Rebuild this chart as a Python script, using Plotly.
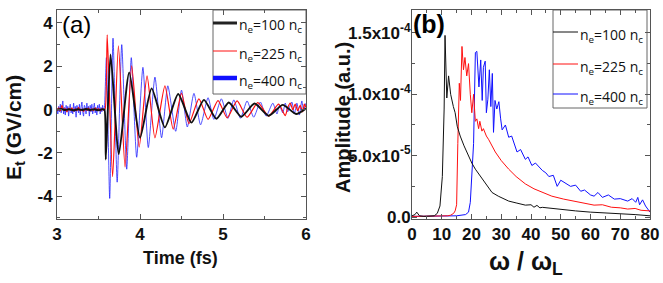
import numpy as np
import plotly.graph_objects as go

# ---------------- panel (a): time-domain field ----------------
t_black = [3.00,3.05,3.10,3.15,3.20,3.25,3.30,3.35,3.40,3.45,3.50,3.55,3.572,3.588,3.645,3.745,3.87,4.00,4.14,4.30,4.46,4.62,4.77,4.92,5.07,5.22,5.38,5.55,5.72,5.88,6.00]
E_black = [0.0,0.03,-0.02,0.02,-0.03,0.02,-0.02,0.03,-0.02,0.02,-0.03,0.02,0.0,-2.3,2.55,-2.05,1.72,-1.3,0.98,-0.82,0.72,-0.6,0.45,-0.42,0.33,-0.33,0.28,-0.28,0.22,-0.2,0.05]

t_red = [3.00,3.02,3.04,3.06,3.08,3.10,3.12,3.14,3.16,3.18,3.20,3.22,3.24,3.26,3.28,3.30,3.32,3.34,3.36,3.38,3.40,3.42,3.44,3.46,3.48,3.50,3.52,3.54,3.56,3.58,
         3.605,3.67,3.74,3.82,3.90,3.99,4.085,4.18,4.30,4.40,4.50,4.59,4.71,4.82,4.94,5.05,5.17,5.29,5.42,5.55,5.67,5.75,
         5.78,5.81,5.84,5.87,5.90,5.93,5.96,5.98,6.00]
E_red = [-0.05,0.08,-0.06,0.2,-0.04,0.05,-0.1,0.06,-0.03,0.08,-0.07,0.04,-0.05,0.1,-0.06,0.03,-0.08,0.05,-0.04,0.07,-0.06,0.04,-0.05,0.08,-0.03,0.05,-0.06,0.04,-0.02,0.03,
         3.45,-3.1,2.95,-2.65,2.02,-1.73,1.56,-1.3,1.1,-0.9,0.75,-0.65,0.5,-0.45,0.42,-0.38,0.4,-0.35,0.32,-0.3,0.25,-0.28,
         0.1,0.3,0.0,0.25,-0.05,0.2,-0.1,0.25,0.1]

t_blue = [3.00,3.01,3.02,3.03,3.04,3.05,3.06,3.07,3.08,3.09,
          3.10,3.11,3.12,3.13,3.14,3.15,3.16,3.17,3.18,3.19,
          3.20,3.21,3.22,3.23,3.24,3.25,3.26,3.27,3.28,3.29,
          3.30,3.31,3.32,3.33,3.34,3.35,3.36,3.37,3.38,3.39,
          3.40,3.41,3.42,3.43,3.44,3.45,3.46,3.47,3.48,3.49,
          3.50,3.51,3.52,3.53,3.54,3.55,3.56,3.57,
          3.595,3.635,3.675,3.725,3.78,3.84,3.895,3.96,4.035,4.10,4.18,4.26,4.335,4.43,4.50,4.57,4.65,4.73,4.82,4.89,4.98,5.06,5.13,5.21,5.29,5.37,5.45,5.52,5.60,
          5.65,5.68,5.72,5.75,5.78,5.80,5.83,5.86,5.89,5.92,5.95,5.97,6.00]
E_blue = [0.05,-0.2,0.15,-0.1,0.25,-0.15,0.1,0.4,-0.2,0.1,
          -0.25,0.2,-0.1,0.15,-0.3,0.1,0.25,-0.15,0.05,-0.2,
          0.3,-0.1,0.15,-0.35,0.2,0.05,-0.15,0.25,-0.25,0.1,
          0.35,-0.1,-0.3,0.2,0.1,-0.2,0.3,-0.05,0.15,-0.3,
          0.2,-0.1,0.25,-0.2,0.05,0.3,-0.15,0.1,-0.25,0.2,
          -0.05,0.25,-0.2,0.1,-0.1,0.2,-0.05,0.05,
          2.4,-4.1,3.3,-3.35,3.0,-2.75,2.4,-2.2,1.95,-1.75,1.5,-1.3,1.1,-1.0,0.9,-0.8,0.75,-0.7,0.55,-0.45,0.5,-0.4,0.45,-0.4,0.4,-0.35,0.35,-0.3,0.3,
          -0.2,0.2,-0.15,0.3,-0.1,0.1,0.35,-0.2,0.3,-0.25,0.4,0.0,0.3]

# ---------------- panel (b): spectra (units of 1e-4) ----------------
w_black = [0,1,1.6,2.5,4,6,7.5,8.5,9.4,10.2,10.8,11.1,11.7,12.3,13.0,13.9,14.5,15.2,16.2,17.5,18.5,20.1,21.3,23,25,26.9,29,32.5,35,38.1,40,41,42,43,43.8,47,51,55,60,65,70,75,80]
A_black = [0.01,0.02,0.04,0.01,0.005,0.005,0.01,0.03,0.09,0.33,0.88,1.48,0.97,1.15,1.0,0.9,0.85,0.74,0.66,0.58,0.52,0.44,0.39,0.335,0.27,0.2,0.17,0.13,0.115,0.097,0.1,0.08,0.095,0.075,0.079,0.07,0.06,0.05,0.04,0.035,0.03,0.02,0.01]

w_red = [0,2,5,8,10,12,13,14,14.5,15.0,15.4,15.9,16.3,16.8,17.3,17.8,18.4,19.0,19.6,20.1,20.7,21.3,21.8,22.4,22.8,23.5,24,25,25.8,27,28,30,32.5,35,38.1,41,43.8,47,51,55,58,61.2,64,67,70,72.5,75,77,80]
A_red = [0.005,0.005,0.005,0.005,0.005,0.01,0.015,0.03,0.05,0.1,0.6,1.09,0.95,1.39,1.2,1.3,1.15,1.25,1.0,0.85,1.0,0.78,0.8,0.72,0.78,0.7,0.72,0.66,0.63,0.58,0.53,0.46,0.39,0.33,0.27,0.23,0.2,0.17,0.146,0.125,0.115,0.097,0.1,0.08,0.075,0.065,0.07,0.055,0.05]

w_blue = [0,5,10,15,18,19,19.6,20.1,20.7,21.3,21.8,22.5,23.1,23.6,24.0,24.6,25.0,25.5,26.0,26.5,27.0,27.4,27.9,28.5,29.2,29.8,30.3,31.4,32.5,33.5,35.3,36.5,38.1,39,40.3,41.5,43.8,45,46,47.5,48.8,50,51.5,53.3,55,56.7,58,60,61.2,62.5,64,66,68,70,72.5,74,75.2,75.9,76.5,77.5,78.5,80]
A_blue = [0.005,0.005,0.005,0.01,0.02,0.04,0.12,0.3,0.6,1.34,1.35,1.06,1.28,0.95,1.22,1.27,0.85,0.96,1.2,0.9,1.17,0.69,0.95,0.88,0.94,0.8,0.71,0.75,0.65,0.66,0.53,0.55,0.47,0.49,0.42,0.44,0.38,0.36,0.33,0.34,0.25,0.3,0.28,0.25,0.26,0.21,0.22,0.18,0.17,0.2,0.16,0.18,0.146,0.15,0.13,0.15,0.12,0.16,0.1,0.14,0.09,0.04]

legend_labels = ["n<sub>e</sub>=100 n<sub>c</sub>", "n<sub>e</sub>=225 n<sub>c</sub>", "n<sub>e</sub>=400 n<sub>c</sub>"]

ticks_a_x = [3, 4, 5, 6]
ticks_a_y = [-4, -2, 0, 2, 4]
ticks_b_x = [0, 10, 20, 30, 40, 50, 60, 70, 80]
ticks_b_y = [0, 0.5e-4, 1.0e-4, 1.5e-4]
ticks_b_y_text = ["0.0", "5.0x10<sup>-5</sup>", "1.0x10<sup>-4</sup>", "1.5x10<sup>-4</sup>"]

FONT_B = "Liberation Sans, Arial"
FONT_L = "Open Sans"
W, H = 663, 283

def px_x(p):
    return p / W

def px_y(p):
    return 1 - p / H

def bold(vals):
    return ["<b>%s</b>" % v for v in vals]

fig = go.Figure()

# panel (a) traces
fig.add_trace(go.Scatter(x=t_blue, y=E_blue, mode="lines", xaxis="x", yaxis="y",
                         line=dict(color="rgba(20,20,255,0.75)", width=1, shape="spline", smoothing=0.6)))
fig.add_trace(go.Scatter(x=t_red, y=E_red, mode="lines", xaxis="x", yaxis="y",
                         line=dict(color="#ff1010", width=1.2, shape="spline", smoothing=0.6)))
fig.add_trace(go.Scatter(x=t_black, y=E_black, mode="lines", xaxis="x", yaxis="y",
                         line=dict(color="#111111", width=1.9, shape="spline", smoothing=0.6)))

# panel (b) traces
sc = 1e-4
fig.add_trace(go.Scatter(x=w_blue, y=np.array(A_blue) * sc, mode="lines", xaxis="x2", yaxis="y2",
                         line=dict(color="#1010ff", width=1)))
fig.add_trace(go.Scatter(x=w_red, y=np.array(A_red) * sc, mode="lines", xaxis="x2", yaxis="y2",
                         line=dict(color="#ff1010", width=1)))
fig.add_trace(go.Scatter(x=w_black, y=np.array(A_black) * sc, mode="lines", xaxis="x2", yaxis="y2",
                         line=dict(color="#111111", width=1)))

tickfont = dict(family=FONT_B, size=17, color="#111")
axcommon = dict(showline=True, linecolor="#555", linewidth=1, mirror="allticks", ticks="inside",
                ticklen=5, tickcolor="#555", showgrid=False, zeroline=False, tickfont=tickfont,
                automargin=False, tickmode="array")

ydom = [px_y(219), px_y(10)]
fig.update_layout(
    width=W, height=H, margin=dict(l=0, r=0, t=0, b=0, autoexpand=False),
    paper_bgcolor="white", plot_bgcolor="white", showlegend=False,
    xaxis=dict(domain=[px_x(57), px_x(306)], range=[3, 6], tickvals=ticks_a_x, ticktext=bold(ticks_a_x), anchor="y",
               minor=dict(ticks="inside", ticklen=3, dtick=0.5, tickcolor="#555"), **axcommon),
    yaxis=dict(domain=ydom, range=[-5.05, 4.6], tickvals=ticks_a_y, ticktext=bold(ticks_a_y), anchor="x",
               minor=dict(ticks="inside", ticklen=3, dtick=1, tickcolor="#555"), **axcommon),
    xaxis2=dict(domain=[px_x(412), px_x(650)], range=[0, 80], tickvals=ticks_b_x, ticktext=bold(ticks_b_x), anchor="y2",
                minor=dict(ticks="inside", ticklen=3, dtick=5, tickcolor="#555"), **axcommon),
    yaxis2=dict(domain=ydom, range=[-0.016e-4, 1.687e-4], anchor="x2",
                tickvals=ticks_b_y, ticktext=bold(ticks_b_y_text), ticklabelstandoff=-3,
                minor=dict(ticks="inside", ticklen=3, dtick=0.25e-4, tickcolor="#555"), **axcommon),
)

# ---- legends drawn as boxes with sample lines and labels ----
def add_legend(x0, x1, y0, y1, rows, line_x1, colors, widths):
    fig.add_shape(type="rect", xref="paper", yref="paper", x0=px_x(x0), x1=px_x(x1),
                  y0=px_y(y1), y1=px_y(y0), line=dict(color="#666", width=1), fillcolor="white", layer="below")
    for yy, col, wd, lab in zip(rows, colors, widths, legend_labels):
        fig.add_shape(type="line", xref="paper", yref="paper", x0=px_x(x0), x1=px_x(line_x1),
                      y0=px_y(yy), y1=px_y(yy), line=dict(color=col, width=wd), layer="above")
        fig.add_annotation(text=lab, x=px_x(line_x1 + 1), y=px_y(yy + 3), xref="paper", yref="paper",
                           xanchor="left", yanchor="middle", showarrow=False, borderpad=0,
                           font=dict(family=FONT_L, size=14, color="#111"))

add_legend(213, 306, 10, 94, [23, 51, 78], 237, ["#222222", "#ff1010", "#1010ff"], [3, 1, 4.5])
add_legend(553, 647, 10, 108, [32, 64, 94], 578, ["#111111", "#ff1010", "#1010ff"], [1, 1, 1])

fig.add_annotation(text="<b>Time (fs)</b>", x=px_x(181), y=px_y(258), xref="paper", yref="paper",
                   xanchor="center", yanchor="middle", showarrow=False, font=dict(family=FONT_B, size=18, color="#111"))
fig.add_annotation(text="<b>E<sub>t</sub> (GV/cm)</b>", x=px_x(15), y=px_y(128), xref="paper", yref="paper",
                   xanchor="center", yanchor="middle", showarrow=False, font=dict(family=FONT_B, size=21, color="#111"),
                   textangle=-90)
fig.add_annotation(text="<b>ω / ω<sub>L</sub></b>", x=px_x(526), y=px_y(263), xref="paper", yref="paper",
                   xanchor="center", yanchor="middle", showarrow=False, font=dict(family=FONT_B, size=25, color="#111"))
fig.add_annotation(text="<b>Amplitude (a.u.)</b>", x=px_x(343), y=px_y(118), xref="paper", yref="paper",
                   xanchor="center", yanchor="middle", showarrow=False, font=dict(family=FONT_B, size=20, color="#111"),
                   textangle=-90)
fig.add_annotation(text="(a)", x=px_x(60), y=px_y(24), xref="paper", yref="paper", xanchor="left",
                   yanchor="middle", showarrow=False, font=dict(family=FONT_B, size=24, color="#000"))
fig.add_annotation(text="<b>(b)</b>", x=px_x(411), y=px_y(24), xref="paper", yref="paper", xanchor="left",
                   yanchor="middle", showarrow=False, font=dict(family=FONT_B, size=25, color="#000"))

fig.write_html("out.html", config={"displayModeBar": False},
               post_script="document.body.style.margin='0';document.body.style.padding='0';")
